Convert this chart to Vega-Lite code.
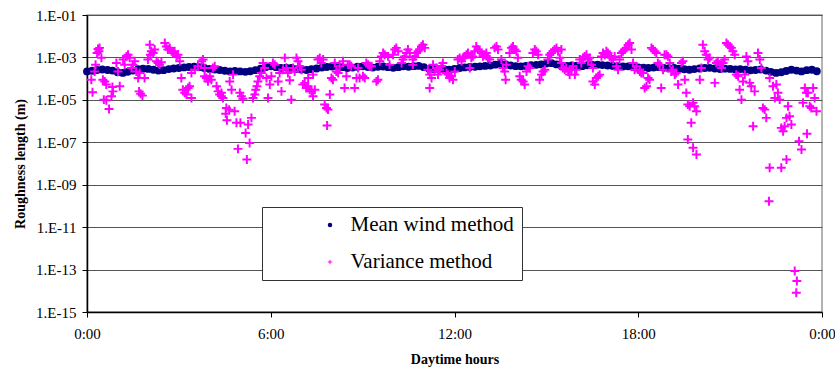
{
"$schema": "https://vega.github.io/schema/vega-lite/v6.json",
"width": 735,
"height": 297,
"autosize": {"type": "none"},
"padding": {"left": 87, "top": 15, "right": 13, "bottom": 59},
"background": "white",
"config": {
  "font": "Liberation Serif",
  "view": {"stroke": "#9a9a9a", "strokeWidth": 1.5},
  "axis": {"labelFont": "Liberation Serif", "labelFontSize": 15, "labelColor": "black", "titleFont": "Liberation Serif", "titleFontSize": 14, "titleFontWeight": "bold", "titleColor": "black", "domainColor": "black", "domainWidth": 1.5, "tickColor": "black", "tickSize": 5, "tickWidth": 1}
},
"datasets": {
"mean": [
{"t":0.00,"e":-3.66},{"t":0.17,"e":-3.63},{"t":0.33,"e":-3.59},{"t":0.50,"e":-3.57},{"t":0.67,"e":-3.59},{"t":0.83,"e":-3.62},
{"t":1.00,"e":-3.70},{"t":1.17,"e":-3.73},{"t":1.33,"e":-3.68},{"t":1.50,"e":-3.62},{"t":1.67,"e":-3.55},{"t":1.83,"e":-3.53},
{"t":2.00,"e":-3.54},{"t":2.17,"e":-3.58},{"t":2.33,"e":-3.62},{"t":2.50,"e":-3.60},{"t":2.67,"e":-3.55},{"t":2.83,"e":-3.52},
{"t":3.00,"e":-3.50},{"t":3.17,"e":-3.47},{"t":3.33,"e":-3.45},{"t":3.50,"e":-3.44},{"t":3.67,"e":-3.46},{"t":3.83,"e":-3.50},
{"t":4.00,"e":-3.54},{"t":4.17,"e":-3.57},{"t":4.33,"e":-3.59},{"t":4.50,"e":-3.63},{"t":4.67,"e":-3.66},{"t":4.83,"e":-3.64},
{"t":5.00,"e":-3.66},{"t":5.17,"e":-3.68},{"t":5.33,"e":-3.65},{"t":5.50,"e":-3.60},{"t":5.67,"e":-3.53},{"t":5.83,"e":-3.46},
{"t":6.00,"e":-3.42},{"t":6.17,"e":-3.46},{"t":6.33,"e":-3.50},{"t":6.50,"e":-3.48},{"t":6.67,"e":-3.50},{"t":6.83,"e":-3.55},
{"t":7.00,"e":-3.57},{"t":7.17,"e":-3.59},{"t":7.33,"e":-3.56},{"t":7.50,"e":-3.52},{"t":7.67,"e":-3.48},{"t":7.83,"e":-3.45},
{"t":8.00,"e":-3.43},{"t":8.17,"e":-3.42},{"t":8.33,"e":-3.46},{"t":8.50,"e":-3.50},{"t":8.67,"e":-3.48},{"t":8.83,"e":-3.44},
{"t":9.00,"e":-3.42},{"t":9.17,"e":-3.45},{"t":9.33,"e":-3.48},{"t":9.50,"e":-3.44},{"t":9.67,"e":-3.43},{"t":9.83,"e":-3.46},
{"t":10.00,"e":-3.49},{"t":10.17,"e":-3.46},{"t":10.33,"e":-3.42},{"t":10.50,"e":-3.44},{"t":10.67,"e":-3.41},{"t":10.83,"e":-3.40},
{"t":11.00,"e":-3.46},{"t":11.17,"e":-3.53},{"t":11.33,"e":-3.56},{"t":11.50,"e":-3.55},{"t":11.67,"e":-3.57},{"t":11.83,"e":-3.58},
{"t":12.00,"e":-3.54},{"t":12.17,"e":-3.50},{"t":12.33,"e":-3.47},{"t":12.50,"e":-3.45},{"t":12.67,"e":-3.44},{"t":12.83,"e":-3.42},
{"t":13.00,"e":-3.40},{"t":13.17,"e":-3.38},{"t":13.33,"e":-3.34},{"t":13.50,"e":-3.30},{"t":13.67,"e":-3.33},{"t":13.83,"e":-3.38},
{"t":14.00,"e":-3.41},{"t":14.17,"e":-3.42},{"t":14.33,"e":-3.40},{"t":14.50,"e":-3.37},{"t":14.67,"e":-3.35},{"t":14.83,"e":-3.33},
{"t":15.00,"e":-3.29},{"t":15.17,"e":-3.27},{"t":15.33,"e":-3.33},{"t":15.50,"e":-3.41},{"t":15.67,"e":-3.40},{"t":15.83,"e":-3.38},
{"t":16.00,"e":-3.39},{"t":16.17,"e":-3.41},{"t":16.33,"e":-3.37},{"t":16.50,"e":-3.35},{"t":16.67,"e":-3.34},{"t":16.83,"e":-3.36},
{"t":17.00,"e":-3.38},{"t":17.17,"e":-3.40},{"t":17.33,"e":-3.41},{"t":17.50,"e":-3.43},{"t":17.67,"e":-3.42},{"t":17.83,"e":-3.44},
{"t":18.00,"e":-3.47},{"t":18.17,"e":-3.48},{"t":18.33,"e":-3.50},{"t":18.50,"e":-3.48},{"t":18.67,"e":-3.46},{"t":18.83,"e":-3.49},
{"t":19.00,"e":-3.51},{"t":19.17,"e":-3.50},{"t":19.33,"e":-3.53},{"t":19.50,"e":-3.56},{"t":19.67,"e":-3.58},{"t":19.83,"e":-3.55},
{"t":20.00,"e":-3.52},{"t":20.17,"e":-3.50},{"t":20.33,"e":-3.49},{"t":20.50,"e":-3.52},{"t":20.67,"e":-3.55},{"t":20.83,"e":-3.53},
{"t":21.00,"e":-3.54},{"t":21.17,"e":-3.57},{"t":21.33,"e":-3.55},{"t":21.50,"e":-3.58},{"t":21.67,"e":-3.61},{"t":21.83,"e":-3.59},
{"t":22.00,"e":-3.57},{"t":22.17,"e":-3.62},{"t":22.33,"e":-3.68},{"t":22.50,"e":-3.73},{"t":22.67,"e":-3.70},{"t":22.83,"e":-3.64},
{"t":23.00,"e":-3.58},{"t":23.17,"e":-3.62},{"t":23.33,"e":-3.66},{"t":23.50,"e":-3.60},{"t":23.67,"e":-3.58},{"t":23.83,"e":-3.65}
],
"variance": [
{"t":0.14,"e":-4.05},{"t":0.18,"e":-4.64},{"t":0.25,"e":-3.66},{"t":0.28,"e":-3.34},{"t":0.36,"e":-2.60},{"t":0.39,"e":-2.71},{"t":0.33,"e":-2.79},{"t":0.41,"e":-2.55},{"t":0.47,"e":-3.02},
{"t":0.52,"e":-4.05},{"t":0.58,"e":-4.13},{"t":0.63,"e":-4.28},{"t":0.55,"e":-4.99},{"t":0.63,"e":-5.02},{"t":0.72,"e":-5.43},{"t":0.80,"e":-4.83},{"t":0.85,"e":-4.60},{"t":0.83,"e":-4.39},
{"t":0.96,"e":-3.26},{"t":1.07,"e":-4.36},{"t":1.01,"e":-3.66},{"t":1.18,"e":-3.10},{"t":1.23,"e":-3.34},{"t":1.29,"e":-2.95},{"t":1.34,"e":-2.87},{"t":1.39,"e":-3.02},{"t":1.45,"e":-3.50},
{"t":1.50,"e":-3.34},{"t":1.56,"e":-3.18},{"t":1.61,"e":-3.66},{"t":1.67,"e":-3.97},{"t":1.72,"e":-3.73},{"t":1.70,"e":-4.60},{"t":1.75,"e":-4.71},{"t":1.81,"e":-4.80},{"t":1.88,"e":-3.97},
{"t":1.99,"e":-3.10},{"t":2.05,"e":-2.40},{"t":2.10,"e":-2.71},{"t":2.16,"e":-2.79},{"t":2.21,"e":-2.63},{"t":2.07,"e":-2.87},{"t":2.27,"e":-3.18},{"t":2.32,"e":-3.26},{"t":2.37,"e":-3.34},
{"t":2.43,"e":-3.23},{"t":2.54,"e":-2.32},{"t":2.59,"e":-2.48},{"t":2.64,"e":-2.63},{"t":2.70,"e":-2.55},{"t":2.76,"e":-2.71},{"t":2.81,"e":-2.79},{"t":2.86,"e":-2.71},{"t":2.92,"e":-2.95},
{"t":2.97,"e":-2.87},{"t":3.03,"e":-3.18},{"t":3.08,"e":-3.97},{"t":3.13,"e":-4.52},{"t":3.19,"e":-4.67},{"t":3.25,"e":-4.75},{"t":3.30,"e":-4.44},{"t":3.35,"e":-4.36},{"t":3.41,"e":-4.91},
{"t":3.41,"e":-3.73},{"t":3.52,"e":-3.58},{"t":3.62,"e":-3.42},{"t":3.74,"e":-3.18},{"t":3.79,"e":-3.10},{"t":3.84,"e":-3.50},{"t":3.84,"e":-3.89},{"t":3.90,"e":-3.97},{"t":3.95,"e":-4.13},
{"t":4.01,"e":-3.89},{"t":4.06,"e":-4.05},{"t":4.11,"e":-3.50},{"t":4.17,"e":-3.42},{"t":4.23,"e":-4.36},{"t":4.28,"e":-4.60},{"t":4.33,"e":-4.75},{"t":4.39,"e":-4.83},{"t":4.44,"e":-4.91},
{"t":4.39,"e":-4.67},{"t":4.55,"e":-5.38},{"t":4.64,"e":-5.46},{"t":4.53,"e":-5.65},{"t":4.57,"e":-5.96},{"t":4.66,"e":-4.13},{"t":4.72,"e":-4.52},{"t":4.77,"e":-3.81},{"t":4.82,"e":-5.54},
{"t":4.88,"e":-6.08},{"t":4.93,"e":-7.31},{"t":4.99,"e":-4.67},{"t":5.04,"e":-4.83},{"t":5.09,"e":-4.95},{"t":5.01,"e":-6.08},{"t":5.18,"e":-6.56},{"t":5.22,"e":-7.81},{"t":5.31,"e":-7.03},
{"t":5.26,"e":-6.16},{"t":5.37,"e":-5.85},{"t":5.42,"e":-4.91},{"t":5.48,"e":-4.75},{"t":5.51,"e":-4.52},{"t":5.55,"e":-4.36},{"t":5.58,"e":-4.13},{"t":5.64,"e":-3.89},{"t":5.69,"e":-3.73},
{"t":5.75,"e":-3.26},{"t":5.80,"e":-3.50},{"t":5.86,"e":-3.97},{"t":5.91,"e":-4.91},{"t":5.97,"e":-4.28},{"t":6.02,"e":-3.89},{"t":6.07,"e":-3.26},{"t":6.13,"e":-3.34},{"t":6.24,"e":-4.13},
{"t":6.29,"e":-3.73},{"t":6.35,"e":-4.60},{"t":6.40,"e":-3.58},{"t":6.46,"e":-3.02},{"t":6.51,"e":-3.50},{"t":6.56,"e":-3.73},{"t":6.62,"e":-4.08},{"t":6.67,"e":-4.99},{"t":6.73,"e":-3.50},
{"t":6.78,"e":-3.66},{"t":6.84,"e":-3.02},{"t":6.89,"e":-3.18},{"t":6.95,"e":-3.42},{"t":7.00,"e":-3.58},{"t":7.05,"e":-4.28},{"t":7.11,"e":-4.20},{"t":7.16,"e":-4.44},{"t":7.22,"e":-4.36},
{"t":7.27,"e":-4.52},{"t":7.33,"e":-4.60},{"t":7.38,"e":-4.83},{"t":7.44,"e":-4.52},{"t":7.22,"e":-3.97},{"t":7.38,"e":-3.81},{"t":7.54,"e":-3.10},{"t":7.60,"e":-3.02},{"t":7.65,"e":-3.26},
{"t":7.71,"e":-3.10},{"t":7.76,"e":-5.22},{"t":7.82,"e":-5.38},{"t":7.87,"e":-5.46},{"t":7.84,"e":-6.21},{"t":7.93,"e":-4.75},{"t":7.98,"e":-3.97},{"t":8.03,"e":-4.05},{"t":8.09,"e":-3.26},
{"t":8.14,"e":-3.66},{"t":8.20,"e":-3.73},{"t":8.25,"e":-3.42},{"t":8.36,"e":-3.18},{"t":8.41,"e":-4.44},{"t":8.47,"e":-3.89},{"t":8.52,"e":-3.34},{"t":8.58,"e":-3.34},{"t":8.63,"e":-3.42},
{"t":8.74,"e":-4.44},{"t":8.80,"e":-3.97},{"t":8.85,"e":-3.50},{"t":8.90,"e":-3.97},{"t":9.01,"e":-3.89},{"t":9.07,"e":-3.97},{"t":9.12,"e":-3.26},{"t":9.18,"e":-3.34},{"t":9.23,"e":-3.42},
{"t":9.29,"e":-3.42},{"t":9.45,"e":-4.13},{"t":9.50,"e":-4.05},{"t":9.56,"e":-3.18},{"t":9.61,"e":-2.95},{"t":9.67,"e":-2.79},{"t":9.72,"e":-2.87},{"t":9.83,"e":-2.95},{"t":9.88,"e":-3.34},
{"t":9.99,"e":-2.87},{"t":10.05,"e":-2.63},{"t":10.10,"e":-2.55},{"t":10.16,"e":-2.71},{"t":10.27,"e":-3.26},{"t":10.32,"e":-3.10},{"t":10.37,"e":-2.95},{"t":10.43,"e":-2.79},{"t":10.48,"e":-2.63},
{"t":10.54,"e":-2.79},{"t":10.64,"e":-3.10},{"t":10.70,"e":-2.95},{"t":10.76,"e":-2.79},{"t":10.81,"e":-2.71},{"t":10.64,"e":-3.34},{"t":10.86,"e":-2.63},{"t":10.92,"e":-2.48},{"t":10.97,"e":-2.40},
{"t":11.03,"e":-2.55},{"t":11.13,"e":-3.58},{"t":11.19,"e":-3.81},{"t":11.25,"e":-3.97},{"t":11.19,"e":-4.44},{"t":11.30,"e":-3.34},{"t":11.35,"e":-3.66},{"t":11.41,"e":-3.50},{"t":11.46,"e":-3.81},
{"t":11.52,"e":-3.58},{"t":11.57,"e":-3.42},{"t":11.62,"e":-3.26},{"t":11.74,"e":-3.73},{"t":11.79,"e":-3.81},{"t":11.84,"e":-3.97},{"t":11.90,"e":-3.89},{"t":11.95,"e":-4.05},{"t":12.01,"e":-3.66},
{"t":12.11,"e":-3.10},{"t":12.17,"e":-3.02},{"t":12.23,"e":-3.18},{"t":12.28,"e":-3.02},{"t":12.33,"e":-2.95},{"t":12.39,"e":-2.87},{"t":12.44,"e":-2.79},{"t":12.50,"e":-3.50},{"t":12.55,"e":-3.02},
{"t":12.60,"e":-2.95},{"t":12.66,"e":-2.71},{"t":12.71,"e":-2.48},{"t":12.77,"e":-2.63},{"t":12.82,"e":-2.71},{"t":12.88,"e":-2.79},{"t":12.93,"e":-2.95},{"t":12.99,"e":-2.87},{"t":13.04,"e":-2.79},
{"t":13.09,"e":-3.02},{"t":13.15,"e":-3.10},{"t":13.31,"e":-2.55},{"t":13.37,"e":-2.48},{"t":13.42,"e":-2.63},{"t":13.53,"e":-3.10},{"t":13.58,"e":-3.50},{"t":13.64,"e":-3.66},{"t":13.67,"e":-4.05},
{"t":13.69,"e":-3.34},{"t":13.80,"e":-2.79},{"t":13.86,"e":-2.55},{"t":13.91,"e":-2.48},{"t":13.97,"e":-2.63},{"t":14.02,"e":-2.71},{"t":14.07,"e":-3.02},{"t":14.13,"e":-3.89},{"t":14.18,"e":-4.05},
{"t":14.24,"e":-4.13},{"t":14.29,"e":-4.28},{"t":14.35,"e":-3.66},{"t":14.40,"e":-3.42},{"t":14.46,"e":-3.50},{"t":14.56,"e":-2.79},{"t":14.62,"e":-2.63},{"t":14.67,"e":-2.71},{"t":14.73,"e":-2.87},
{"t":14.78,"e":-4.05},{"t":14.84,"e":-3.81},{"t":14.89,"e":-3.66},{"t":14.95,"e":-3.58},{"t":15.05,"e":-3.10},{"t":15.11,"e":-2.87},{"t":15.16,"e":-2.79},{"t":15.22,"e":-2.71},{"t":15.27,"e":-2.63},
{"t":15.33,"e":-2.55},{"t":15.38,"e":-2.71},{"t":15.44,"e":-3.02},{"t":15.49,"e":-3.26},{"t":15.54,"e":-3.50},{"t":15.49,"e":-2.63},{"t":15.60,"e":-3.58},{"t":15.65,"e":-3.50},{"t":15.71,"e":-3.66},
{"t":15.76,"e":-3.81},{"t":15.82,"e":-3.58},{"t":15.87,"e":-3.42},{"t":15.93,"e":-3.81},{"t":15.98,"e":-3.58},{"t":16.09,"e":-3.10},{"t":16.14,"e":-3.26},{"t":16.20,"e":-3.02},{"t":16.25,"e":-2.95},
{"t":16.31,"e":-2.87},{"t":16.36,"e":-3.10},{"t":16.41,"e":-3.02},{"t":16.47,"e":-3.34},{"t":16.52,"e":-3.50},{"t":16.52,"e":-4.13},{"t":16.58,"e":-4.28},{"t":16.63,"e":-3.97},{"t":16.69,"e":-3.89},
{"t":16.74,"e":-3.81},{"t":16.80,"e":-2.95},{"t":16.85,"e":-2.79},{"t":16.91,"e":-2.87},{"t":16.96,"e":-2.71},{"t":17.01,"e":-2.79},{"t":17.07,"e":-2.95},{"t":17.12,"e":-3.02},{"t":17.18,"e":-3.10},
{"t":17.23,"e":-2.95},{"t":17.29,"e":-3.42},{"t":17.34,"e":-3.58},{"t":17.39,"e":-3.10},{"t":17.45,"e":-2.79},{"t":17.50,"e":-2.71},{"t":17.56,"e":-2.63},{"t":17.61,"e":-2.55},{"t":17.67,"e":-2.40},
{"t":17.72,"e":-2.32},{"t":17.78,"e":-2.63},{"t":17.83,"e":-3.26},{"t":17.88,"e":-3.58},{"t":17.94,"e":-3.42},{"t":18.05,"e":-3.66},{"t":18.10,"e":-3.73},{"t":18.16,"e":-3.73},{"t":18.21,"e":-4.44},
{"t":18.27,"e":-4.36},{"t":18.32,"e":-3.97},{"t":18.37,"e":-4.05},{"t":18.43,"e":-2.55},{"t":18.48,"e":-2.63},{"t":18.54,"e":-2.71},{"t":18.59,"e":-2.79},{"t":18.64,"e":-3.26},{"t":18.70,"e":-3.34},
{"t":18.75,"e":-4.44},{"t":18.81,"e":-3.58},{"t":18.86,"e":-2.87},{"t":18.92,"e":-2.87},{"t":18.97,"e":-2.95},{"t":19.03,"e":-3.26},{"t":19.08,"e":-3.66},{"t":19.13,"e":-3.58},{"t":19.19,"e":-3.81},
{"t":19.24,"e":-3.73},{"t":19.30,"e":-4.28},{"t":19.41,"e":-3.26},{"t":19.46,"e":-3.18},{"t":19.52,"e":-4.05},{"t":19.57,"e":-4.67},{"t":19.62,"e":-5.22},{"t":19.68,"e":-5.30},{"t":19.73,"e":-6.08},
{"t":19.79,"e":-5.14},{"t":19.84,"e":-5.30},{"t":19.90,"e":-5.54},{"t":19.62,"e":-6.87},{"t":19.79,"e":-7.26},{"t":19.90,"e":-7.58},{"t":20.01,"e":-4.05},{"t":20.06,"e":-3.50},{"t":20.11,"e":-2.40},
{"t":20.17,"e":-2.71},{"t":20.22,"e":-2.87},{"t":20.28,"e":-3.10},{"t":20.33,"e":-3.02},{"t":20.50,"e":-4.20},{"t":20.55,"e":-3.26},{"t":20.60,"e":-3.18},{"t":20.66,"e":-3.34},{"t":20.72,"e":-3.50},
{"t":20.77,"e":-3.26},{"t":20.82,"e":-3.10},{"t":20.88,"e":-2.32},{"t":20.93,"e":-2.40},{"t":20.99,"e":-2.48},{"t":21.04,"e":-2.55},{"t":21.09,"e":-2.71},{"t":21.15,"e":-2.87},{"t":21.20,"e":-3.81},
{"t":21.26,"e":-3.89},{"t":21.31,"e":-4.52},{"t":21.37,"e":-4.99},{"t":21.42,"e":-4.13},{"t":21.48,"e":-3.81},{"t":21.53,"e":-2.95},{"t":21.58,"e":-3.18},{"t":21.64,"e":-4.20},{"t":21.69,"e":-4.36},
{"t":21.75,"e":-6.24},{"t":21.80,"e":-4.60},{"t":21.91,"e":-2.79},{"t":21.97,"e":-3.10},{"t":22.02,"e":-3.50},{"t":22.07,"e":-5.38},{"t":22.13,"e":-5.46},{"t":22.18,"e":-5.85},{"t":22.29,"e":-3.97},
{"t":22.40,"e":-4.36},{"t":22.46,"e":-4.91},{"t":22.51,"e":-4.28},{"t":22.56,"e":-4.67},{"t":22.62,"e":-4.99},{"t":22.67,"e":-6.32},{"t":22.73,"e":-6.48},{"t":22.78,"e":-6.24},{"t":22.84,"e":-5.85},
{"t":22.89,"e":-5.30},{"t":22.94,"e":-5.77},{"t":23.00,"e":-6.16},{"t":22.29,"e":-8.20},{"t":22.27,"e":-9.78},{"t":22.67,"e":-8.20},{"t":22.84,"e":-7.81},{"t":23.11,"e":-13.07},{"t":23.18,"e":-13.54},
{"t":23.16,"e":-14.09},{"t":23.25,"e":-6.95},{"t":23.33,"e":-7.34},{"t":23.51,"e":-6.60},{"t":23.44,"e":-4.44},{"t":23.49,"e":-4.67},{"t":23.54,"e":-4.67},{"t":23.60,"e":-5.30},{"t":23.65,"e":-5.38},
{"t":23.71,"e":-4.44},{"t":23.76,"e":-4.91},{"t":23.82,"e":-5.54},{"t":23.38,"e":-5.14}
]
},
"encoding": {
  "x": {"field": "t", "type": "quantitative",
    "scale": {"domain": [0, 24], "nice": false, "zero": false},
    "axis": {"title": "Daytime hours", "values": [0, 6, 12, 18, 24], "labelExpr": "(datum.value % 24) + ':00'", "grid": false, "labelPadding": 9, "titlePadding": 11, "labelFlush": false}},
  "y": {"field": "e", "type": "quantitative",
    "scale": {"domain": [-15, -1], "nice": false, "zero": false},
    "axis": {"title": "Roughness length (m)", "values": [-15, -13, -11, -9, -7, -5, -3, -1], "labelExpr": "'1.E-' + (abs(datum.value) < 10 ? '0' : '') + abs(datum.value)", "grid": true, "gridColor": "#555555", "gridWidth": 1, "labelPadding": 6, "titlePadding": 8}}
},
"layer": [
  {"data": {"name": "mean"},
   "mark": {"type": "point", "filled": true, "size": 62, "opacity": 1},
   "encoding": {
     "color": {"datum": "Mean wind method", "type": "nominal",
       "scale": {"domain": ["Mean wind method", "Variance method"], "range": ["#000080", "#ff00ff"]},
       "legend": {"title": null, "orient": "none", "legendX": 175, "legendY": 192, "fillColor": "white", "strokeColor": "#333333", "padding": 7.5, "rowPadding": 15, "labelFont": "Liberation Serif", "labelFontSize": 21, "labelColor": "black", "labelLimit": 500, "symbolSize": 20, "symbolOffset": 50, "labelOffset": 10, "labelExpr": "datum.label + '\u00a0\u00a0\u00a0\u00a0\u00a0\u00a0\u00a0\u00a0'"}},
     "shape": {"datum": "Mean wind method", "type": "nominal",
       "scale": {"domain": ["Mean wind method", "Variance method"], "range": ["circle", "M-1,-0.22H-0.22V-1H0.22V-0.22H1V0.22H0.22V1H-0.22V0.22H-1Z"]},
       "legend": {"title": null, "orient": "none", "legendX": 175, "legendY": 192, "fillColor": "white", "strokeColor": "#333333", "padding": 7.5, "rowPadding": 15, "labelFont": "Liberation Serif", "labelFontSize": 21, "labelColor": "black", "labelLimit": 500, "symbolSize": 20, "symbolOffset": 50, "labelOffset": 10, "labelExpr": "datum.label + '\u00a0\u00a0\u00a0\u00a0\u00a0\u00a0\u00a0\u00a0'"}}
   }},
  {"data": {"name": "variance"},
   "mark": {"type": "point", "filled": true, "size": 80, "opacity": 1},
   "encoding": {
     "color": {"datum": "Variance method", "type": "nominal"},
     "shape": {"datum": "Variance method", "type": "nominal"}
   }}
]
}
